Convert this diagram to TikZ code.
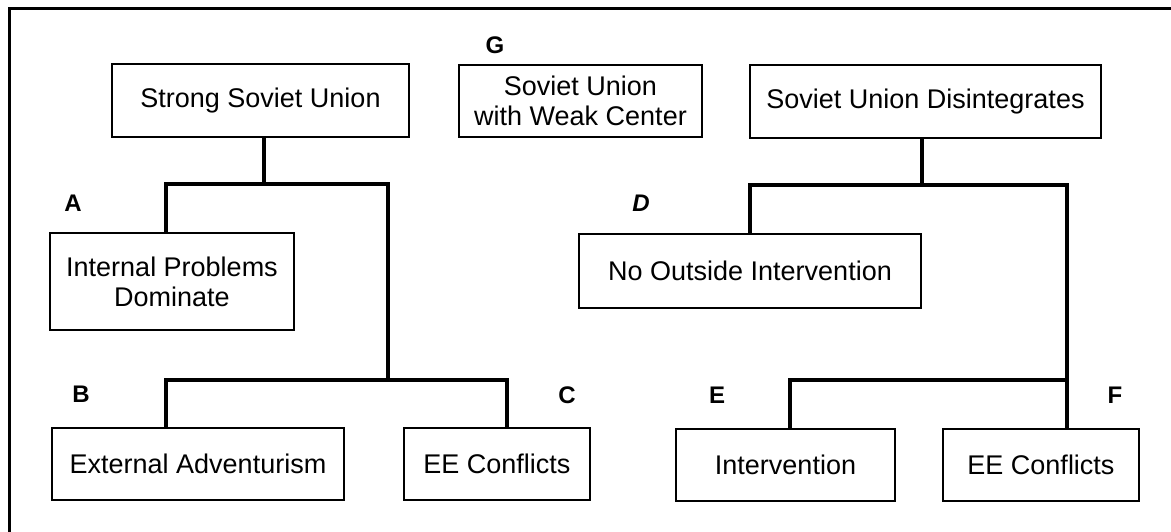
\documentclass[tikz,border=0pt]{standalone}
\usepackage{fontspec}
\setmainfont{Liberation Sans}
\begin{document}
\begin{tikzpicture}[x=1pt,y=-1pt,
  box/.style={draw, line width=1.6pt, rectangle, inner sep=0pt, align=center,
    font=\fontsize{27}{30}\selectfont},
  conn/.style={line width=4pt, line join=miter},
  lbl/.style={font=\fontsize{24}{28}\selectfont\bfseries, inner sep=0pt},
  frame/.style={line width=3pt}]
\useasboundingbox (0,0) rectangle (1171,532);
% frame
\coordinate (fTL) at (9,9);
\coordinate (fTR) at (1171,9);
\coordinate (fBL) at (9,532);
\draw[frame] (fBL) -- (fTL) -- (fTR);
% boxes
\node[box, minimum width=297pt, minimum height=73pt] (strong) at (260.5,100.5) {Strong Soviet Union};
\node[box, minimum width=243pt, minimum height=72pt] (weak) at (580.5,101) {Soviet Union\\with Weak Center};
\node[box, minimum width=351pt, minimum height=73pt] (sud) at (925.5,101.5) {Soviet Union Disintegrates};
\node[box, minimum width=244pt, minimum height=97pt] (intA) at (172,281.5) {Internal Problems\\Dominate};
\node[box, minimum width=292pt, minimum height=72pt] (extB) at (198,464) {External Adventurism};
\node[box, minimum width=186pt, minimum height=72pt] (eeC) at (497,464) {EE Conflicts};
\node[box, minimum width=342pt, minimum height=74pt] (noD) at (750,271) {No Outside Intervention};
\node[box, minimum width=219pt, minimum height=72pt] (intE) at (785.5,465) {Intervention};
\node[box, minimum width=196pt, minimum height=72pt] (eeF) at (1041,465) {EE Conflicts};
% labels
\node[lbl] (lA) at (73,203) {A};
\node[lbl] (lB) at (81,394) {B};
\node[lbl] (lC) at (567,395) {C};
\node[lbl, font=\fontsize{24}{28}\selectfont\bfseries\itshape] (lD) at (641,203) {D};
\node[lbl] (lE) at (717,395) {E};
\node[lbl] (lF) at (1115,395) {F};
\node[lbl] (lG) at (495,45) {G};
% left tree
\coordinate (s1) at (264,184);
\coordinate (tA) at (166,184);
\coordinate (tR) at (388,184);
\coordinate (cB) at (166,380);
\coordinate (cC) at (507,380);
\draw[conn] (strong.south -| s1) -- (s1);
\draw[conn] (intA.north -| tA) -- (tA) -- (tR) -- (tR |- cC);
\draw[conn] (extB.north -| cB) -- (cB) -- (cC) -- (eeC.north -| cC);
% right tree
\coordinate (u1) at (922,185);
\coordinate (uD) at (750,185);
\coordinate (uF) at (1067,185);
\coordinate (lE1) at (790,380);
\coordinate (lF1) at (1067,380);
\draw[conn] (sud.south -| u1) -- (u1);
\draw[conn] (noD.north -| uD) -- (uD) -- (uF) -- (eeF.north -| uF);
\draw[conn] (intE.north -| lE1) -- (lE1) -- (lF1);
\end{tikzpicture}
\end{document}
